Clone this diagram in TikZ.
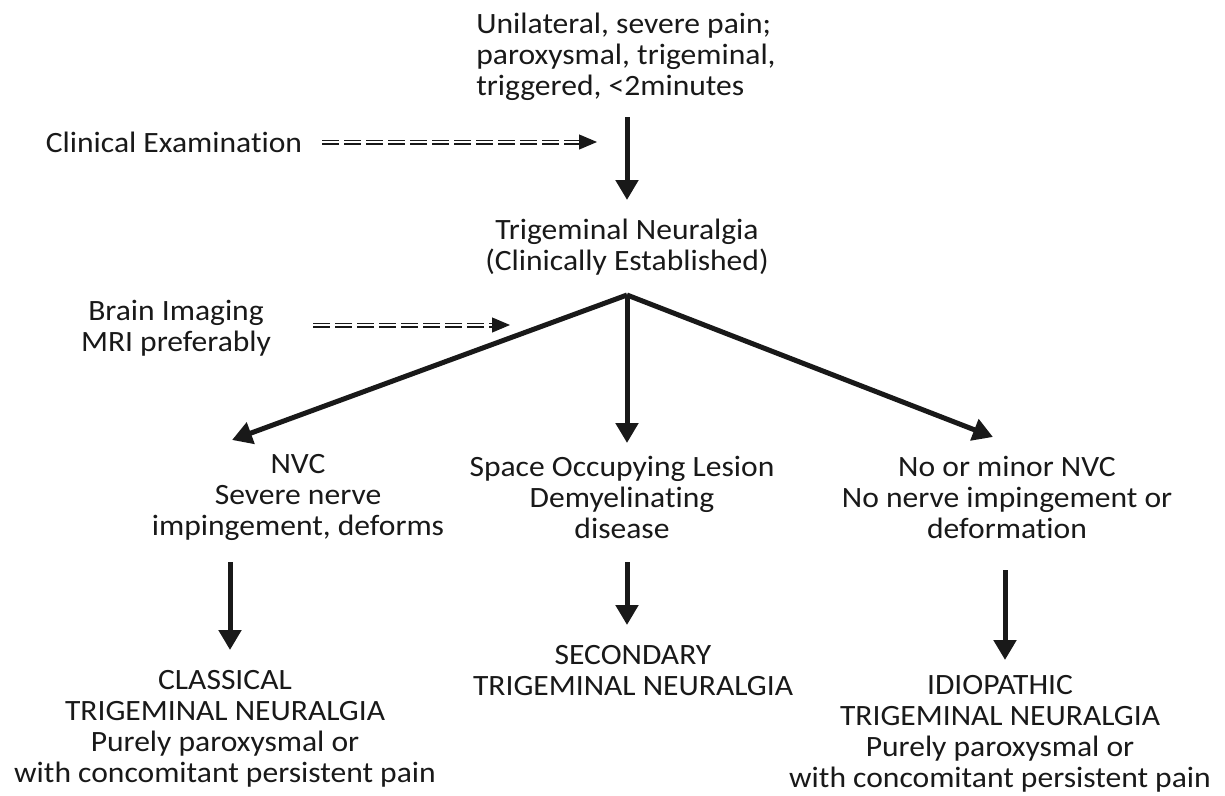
\documentclass[tikz,border=0pt]{standalone}
\usepackage{fontspec}
\setmainfont{Carlito}[FakeStretch=1.07, Ligatures=NoCommon]
\usetikzlibrary{arrows.meta}
\begin{document}
\begin{tikzpicture}[x=1pt,y=-1pt,
 txt/.style={font=\fontsize{29.5}{31}\selectfont, align=center, inner sep=0pt, text=black!90},
 main/.style={line width=5pt, black!90, -{Triangle[length=20pt,width=22pt]}},
 dbl/.style={double=white, draw=black!90, double distance=1.8pt, line width=1.6pt, dash pattern=on 17pt off 5pt},
 dtip/.style={line width=1pt, black!90, -{Triangle[length=18pt,width=15pt]}}]
\useasboundingbox (0,0) rectangle (1225,795);
\fill[white] (0,0) rectangle (1225,795);

\node[txt, align=left] (top) at (626,57) {Unilateral, severe pain;\\paroxysmal, trigeminal,\\triggered, <2minutes};
\node[txt] (clin) at (174,142) {Clinical Examination};
\node[txt] (tn) at (627,247) {Trigeminal Neuralgia\\(Clinically Established)};
\node[txt] (brain) at (176,328) {Brain Imaging\\MRI preferably};
\node[txt] (nvc) at (298,497) {NVC\\Severe nerve\\impingement, deforms};
\node[txt] (sol) at (622,497) {Space Occupying Lesion\\Demyelinating\\disease};
\node[txt] (minor) at (1007,497) {No or minor NVC\\No nerve impingement or\\deformation};
\node[txt] (cls) at (225,729) {CLASSICAL\\TRIGEMINAL NEURALGIA\\Purely paroxysmal or\\with concomitant persistent pain};
\node[txt] (sec) at (633,671) {SECONDARY\\TRIGEMINAL NEURALGIA};
\node[txt] (idi) at (1000,734) {IDIOPATHIC\\TRIGEMINAL NEURALGIA\\Purely paroxysmal or\\with concomitant persistent pain};

% main arrows
\coordinate (a1s) at (627,117);
\coordinate (a1e) at (627,200);
\draw[main] (a1s) -- (a1e);

\coordinate (br) at (627,295);
\coordinate (tl) at (232,440);
\coordinate (tm) at (627,443);
\coordinate (tr) at (993,437);
\draw[main] (br) -- (tl);
\draw[main] (br) -- (tm);
\draw[main] (br) -- (tr);

\coordinate (l1) at (230,562);
\coordinate (l2) at (230,650);
\coordinate (m1) at (627,562);
\coordinate (m2) at (627,625);
\coordinate (r1) at (1005,570);
\coordinate (r2) at (1005,660);
\draw[main] (l1) -- (l2);
\draw[main] (m1) -- (m2);
\draw[main] (r1) -- (r2);

% dashed double arrows
\coordinate (d1s) at (322,142);
\coordinate (d1e) at (582,142);
\coordinate (d1t) at (597,142);
\draw[dbl] (d1s) -- (d1e);
\draw[dtip] (d1e) -- (d1t);

\coordinate (d2s) at (313,325);
\coordinate (d2e) at (494,325);
\coordinate (d2t) at (510,325);
\draw[dbl] (d2s) -- (d2e);
\draw[dtip] (d2e) -- (d2t);
\end{tikzpicture}
\end{document}
